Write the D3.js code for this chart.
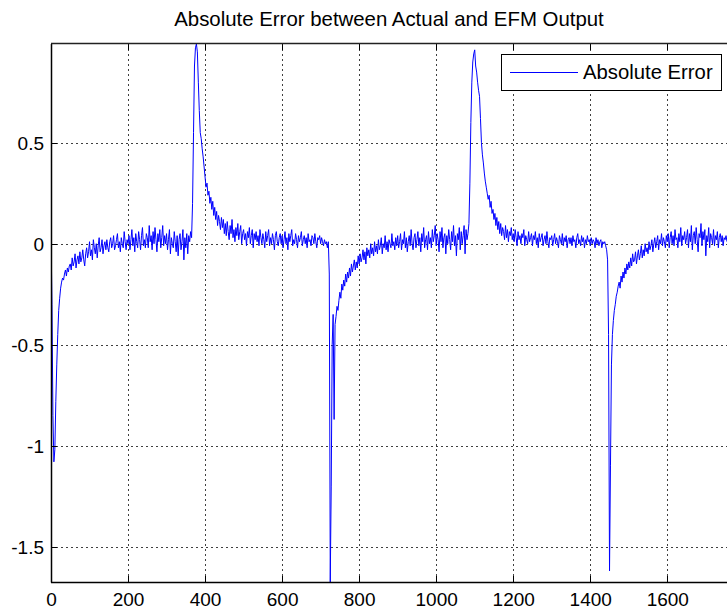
<!DOCTYPE html>
<html>
<head>
<meta charset="utf-8">
<script src="https://cdn.jsdelivr.net/npm/d3@7"></script>
<style>
  html, body { margin: 0; padding: 0; background: #fff; }
  svg { display: block; font-family: "Liberation Sans", Arial, Helvetica, sans-serif; }
</style>
</head>
<body>
<svg id="chart" width="727" height="612"></svg>
<script>
// ---- data ----
const chartTitle = "Absolute Error between Actual and EFM Output";
const seriesName = "Absolute Error";
const sampleStep = 2.5; // sample spacing along x
const xDomain = [0, 1755];
const yDomain = [-1.675, 0.989];
const xTickValues = [0, 200, 400, 600, 800, 1000, 1200, 1400, 1600];
const yTickValues = [0.5, 0, -0.5, -1, -1.5];
const yTickLabels = ["0.5", "0", "-0.5", "-1", "-1.5"];

// error values, one row = 20 samples = 50 x-units
const errPart1 = [ // x 0 .. 347.5
  0.05, -0.30, -0.85, -1.08, -1.02, -0.78, -0.60, -0.45, -0.33, -0.27, -0.22, -0.19, -0.17, -0.18, -0.15, -0.13, -0.16, -0.12, -0.14, -0.11,
  -0.10, -0.13, -0.07, -0.11, -0.09, -0.05, -0.12, -0.08, -0.06, -0.10, -0.04, -0.09, -0.07, -0.03, -0.08, -0.11, -0.05, -0.02, -0.07, -0.04,
  0.01, -0.06, -0.03, -0.08, 0.02, -0.02, -0.05, 0.00, -0.07, -0.01, 0.03, -0.04, -0.02, 0.02, -0.05, -0.01, 0.01, -0.03, 0.02, -0.02,
  -0.04, 0.01, 0.03, -0.02, 0.00, 0.04, -0.03, -0.01, 0.02, 0.05, -0.02, 0.01, -0.04, 0.03, 0.00, -0.02, 0.06, 0.01, -0.03, 0.02,
  0.00, 0.04, -0.03, 0.02, 0.07, -0.01, 0.03, -0.04, 0.05, 0.01, -0.02, 0.06, 0.02, -0.03, 0.04, 0.08, -0.01, 0.02, -0.02, 0.05,
  0.03, -0.02, 0.09, 0.01, 0.04, -0.03, 0.06, 0.00, 0.08, 0.02, -0.04, 0.05, 0.01, 0.07, -0.02, 0.03, 0.09, -0.01, 0.04, 0.00,
  0.05, -0.03, 0.02, 0.07, -0.05, 0.03, 0.00, -0.02, 0.06, 0.01, -0.04, 0.04, -0.06, 0.02, 0.05, -0.03, 0.01, 0.07, -0.08, 0.03
];
const errPart2 = [ // x 350 .. 697.5 (first positive peak)
  -0.02, 0.05, -0.05, 0.04, 0.01, 0.06, 0.03, 0.20, 0.55, 0.88, 0.97, 0.989, 0.95, 0.80, 0.66, 0.55, 0.52, 0.47, 0.43, 0.38,
  0.33, 0.28, 0.30, 0.24, 0.26, 0.20, 0.23, 0.17, 0.21, 0.14, 0.18, 0.12, 0.16, 0.09, 0.14, 0.11, 0.07, 0.13, 0.08, 0.12,
  0.05, 0.10, 0.04, 0.11, 0.06, 0.02, 0.09, 0.05, 0.12, 0.03, 0.07, 0.01, 0.08, 0.04, 0.10, 0.02, 0.06, 0.09, 0.00, 0.05,
  0.07, 0.02, 0.05, -0.01, 0.06, 0.03, 0.08, 0.00, 0.04, 0.07, -0.02, 0.05, 0.02, 0.06, 0.01, 0.04, -0.01, 0.07, 0.03, 0.00,
  0.05, 0.02, -0.02, 0.06, 0.01, 0.04, 0.07, -0.01, 0.03, 0.00, 0.05, 0.02, -0.03, 0.04, 0.06, 0.01, -0.01, 0.03, 0.05, 0.00,
  0.04, -0.02, 0.02, 0.06, 0.00, 0.03, -0.03, 0.05, 0.01, 0.04, 0.07, -0.01, 0.02, 0.00, 0.05, 0.02, -0.02, 0.04, 0.01, 0.03,
  0.06, -0.01, 0.02, 0.04, 0.00, 0.03, -0.02, 0.05, 0.01, 0.02, -0.01, 0.04, 0.03, 0.00, 0.05, 0.01, -0.02, 0.03, 0.02, 0.04
];
const errPart3 = [ // x 700 .. 1047.5 (first negative drop)
  0.00, 0.03, 0.01, -0.01, 0.02, 0.00, 0.01, -0.02, 0.01, -0.15, -1.675, -1.20, -0.50, -0.35, -0.87, -0.40, -0.36, -0.31, -0.33, -0.28,
  -0.24, -0.27, -0.20, -0.23, -0.18, -0.21, -0.15, -0.19, -0.14, -0.17, -0.12, -0.16, -0.10, -0.14, -0.11, -0.08, -0.13, -0.09, -0.12, -0.06,
  -0.10, -0.05, -0.09, -0.07, -0.03, -0.08, -0.04, -0.10, -0.02, -0.06, -0.03, -0.07, 0.00, -0.05, -0.02, -0.06, 0.01, -0.04, -0.01, -0.05,
  0.02, -0.03, -0.01, 0.03, -0.05, 0.00, -0.02, 0.04, -0.03, 0.01, -0.04, 0.02, 0.00, -0.02, 0.05, -0.01, 0.01, -0.03, 0.03, -0.01,
  0.04, -0.02, 0.01, 0.05, -0.03, 0.02, 0.00, 0.06, -0.02, 0.03, -0.04, 0.01, 0.04, -0.01, 0.07, 0.00, -0.03, 0.03, 0.05, -0.02,
  0.02, 0.06, -0.01, 0.03, -0.04, 0.05, 0.01, 0.08, -0.02, 0.02, 0.04, -0.03, 0.06, 0.00, 0.03, -0.02, 0.07, 0.01, 0.04, 0.09,
  -0.01, 0.05, 0.02, -0.04, 0.06, 0.01, 0.08, -0.02, 0.03, 0.05, -0.05, 0.04, 0.00, 0.07, 0.02, -0.03, 0.06, 0.01, 0.09, -0.01
];
const errPart4 = [ // x 1050 .. 1397.5 (second positive peak)
  0.04, -0.06, 0.05, 0.02, 0.08, -0.03, 0.06, 0.00, 0.04, 0.09, -0.05, 0.07, 0.02, 0.05, 0.10, 0.30, 0.60, 0.80, 0.90, 0.94,
  0.96, 0.88, 0.85, 0.80, 0.76, 0.73, 0.62, 0.50, 0.44, 0.40, 0.35, 0.31, 0.28, 0.25, 0.22, 0.24, 0.18, 0.21, 0.15, 0.17,
  0.12, 0.15, 0.09, 0.13, 0.07, 0.11, 0.05, 0.10, 0.04, 0.08, 0.06, 0.02, 0.09, 0.03, 0.07, 0.01, 0.06, 0.04, 0.08, 0.02,
  0.05, 0.01, 0.07, 0.03, -0.01, 0.06, 0.02, 0.04, 0.00, 0.05, 0.03, 0.07, -0.01, 0.04, 0.02, 0.00, 0.06, 0.01, 0.03, 0.05,
  -0.01, 0.04, 0.02, 0.06, 0.00, 0.03, -0.02, 0.05, 0.01, 0.03, 0.05, -0.01, 0.02, 0.04, 0.00, 0.06, 0.01, -0.02, 0.03, 0.02,
  0.04, -0.01, 0.02, 0.05, 0.00, 0.03, 0.01, -0.02, 0.04, 0.02, 0.00, 0.05, -0.01, 0.03, 0.01, 0.04, -0.02, 0.02, 0.03, 0.00,
  0.03, -0.01, 0.04, 0.01, 0.02, -0.02, 0.03, 0.05, 0.00, 0.02, -0.01, 0.04, 0.01, 0.03, -0.02, 0.02, 0.00, 0.04, 0.01, 0.02
];
const errPart5 = [ // x 1400 .. 1755 (second negative drop)
  -0.01, 0.03, 0.00, 0.02, 0.01, -0.02, 0.03, 0.00, 0.02, -0.01, 0.01, 0.02, -0.02, 0.01, 0.00, 0.01, -0.01, -0.03, -0.08, -0.45,
  -1.62, -1.10, -0.60, -0.45, -0.38, -0.33, -0.30, -0.26, -0.24, -0.21, -0.19, -0.22, -0.16, -0.19, -0.14, -0.17, -0.12, -0.15, -0.10, -0.13,
  -0.09, -0.12, -0.07, -0.11, -0.05, -0.09, -0.08, -0.04, -0.10, -0.06, -0.03, -0.08, -0.05, -0.01, -0.07, -0.03, -0.06, 0.00, -0.04, -0.02,
  -0.05, 0.01, -0.03, -0.01, 0.02, -0.04, 0.00, 0.03, -0.02, 0.01, 0.04, -0.03, 0.02, 0.00, 0.05, -0.01, 0.03, 0.01, -0.02, 0.04,
  0.01, 0.05, -0.02, 0.03, 0.06, 0.00, 0.04, -0.01, 0.07, 0.02, 0.03, -0.02, 0.05, 0.01, 0.08, -0.01, 0.04, 0.02, 0.06, 0.00,
  0.03, 0.07, -0.02, 0.05, 0.01, 0.09, -0.03, 0.04, 0.06, 0.00, 0.08, 0.02, -0.04, 0.05, 0.03, 0.10, -0.01, 0.06, 0.02, 0.07,
  -0.06, 0.04, 0.01, 0.08, -0.02, 0.05, 0.03, 0.00, 0.07, -0.01, 0.04, 0.02, 0.06, -0.02, 0.03, 0.05, 0.01, 0.04, -0.01, 0.03,
  0.02, 0.04, 0.01
];

const errValues = [].concat(errPart1, errPart2, errPart3, errPart4, errPart5);
const data = errValues.map((v, i) => ({ x: i * sampleStep, y: v }));

// ---- layout ----
const W = 727, H = 612;
const plot = { left: 51, top: 44, right: 727, bottom: 582 };

const svg = d3.select("#chart");
svg.append("rect").attr("width", W).attr("height", H).attr("fill", "#fff");

const x = d3.scaleLinear().domain(xDomain).range([plot.left, plot.right]);
const y = d3.scaleLinear().domain(yDomain).range([plot.bottom, plot.top]);

svg.append("defs").append("clipPath").attr("id", "clip")
  .append("rect")
  .attr("x", plot.left).attr("y", plot.top)
  .attr("width", plot.right - plot.left).attr("height", plot.bottom - plot.top);

// grid
const grid = svg.append("g");
grid.selectAll("line.vg").data(xTickValues.filter(d => d > 0)).enter().append("line")
  .attr("x1", d => Math.round(x(d)) + 0.5).attr("x2", d => Math.round(x(d)) + 0.5)
  .attr("y1", plot.top).attr("y2", plot.bottom)
  .attr("stroke", "#000").attr("stroke-width", 1).attr("stroke-dasharray", "2,3")
  .attr("opacity", 0.75);
grid.selectAll("line.hg").data(yTickValues).enter().append("line")
  .attr("y1", d => Math.round(y(d)) + 0.5).attr("y2", d => Math.round(y(d)) + 0.5)
  .attr("x1", plot.left).attr("x2", plot.right)
  .attr("stroke", "#000").attr("stroke-width", 1).attr("stroke-dasharray", "2,3")
  .attr("opacity", 0.75);

// series line
const line = d3.line().x(d => x(d.x)).y(d => y(d.y));
svg.append("path").datum(data)
  .attr("clip-path", "url(#clip)")
  .attr("fill", "none").attr("stroke", "#0000ff").attr("stroke-width", 1)
  .attr("stroke-linejoin", "round")
  .attr("d", line);

// axes
const xAxis = d3.axisBottom(x).tickValues(xTickValues).tickSize(0).tickPadding(0).tickFormat(d3.format("d"));
const gx = svg.append("g").attr("transform", `translate(0,${plot.bottom})`).call(xAxis);
gx.select(".domain").remove();
gx.selectAll("text").attr("y", 24).attr("dy", 0).attr("fill", "#000")
  .style("font-size", "19px").style("font-family", "'Liberation Sans', Arial, sans-serif");

const yAxis = d3.axisLeft(y).tickValues(yTickValues).tickSize(0).tickPadding(0)
  .tickFormat((d, i) => yTickLabels[i]);
const gy = svg.append("g").attr("transform", `translate(${plot.left},0)`).call(yAxis);
gy.select(".domain").remove();
gy.selectAll("text").attr("x", -7).attr("dy", "0.35em").attr("fill", "#000")
  .style("font-size", "19px").style("font-family", "'Liberation Sans', Arial, sans-serif");

// inner ticks
const tk = svg.append("g").attr("stroke", "#000").attr("stroke-width", 1);
xTickValues.forEach(v => {
  const px = Math.round(x(v)) + 0.5;
  tk.append("line").attr("x1", px).attr("x2", px).attr("y1", plot.bottom).attr("y2", plot.bottom - 6);
  tk.append("line").attr("x1", px).attr("x2", px).attr("y1", plot.top).attr("y2", plot.top + 6);
});
yTickValues.forEach(v => {
  const py = Math.round(y(v)) + 0.5;
  tk.append("line").attr("x1", plot.left).attr("x2", plot.left + 6).attr("y1", py).attr("y2", py);
});

// frame
svg.append("line").attr("x1", plot.left + 0.5).attr("x2", plot.left + 0.5)
  .attr("y1", plot.top).attr("y2", plot.bottom + 0.5).attr("stroke", "#000").attr("stroke-width", 1.5);
svg.append("line").attr("x1", plot.left).attr("x2", plot.right)
  .attr("y1", plot.bottom + 0.5).attr("y2", plot.bottom + 0.5).attr("stroke", "#000").attr("stroke-width", 1.5);
svg.append("line").attr("x1", plot.left).attr("x2", plot.right)
  .attr("y1", plot.top - 0.5).attr("y2", plot.top - 0.5).attr("stroke", "#222").attr("stroke-width", 1.5);

// title
svg.append("text").attr("x", 389).attr("y", 26).attr("text-anchor", "middle")
  .attr("fill", "#000").style("font-size", "20.4px").text(chartTitle);

// legend
const lg = svg.append("g");
lg.append("rect").attr("x", 501.5).attr("y", 54.5).attr("width", 220).attr("height", 36)
  .attr("fill", "#fff").attr("stroke", "#000").attr("stroke-width", 1);
lg.append("line").attr("x1", 510).attr("x2", 578).attr("y1", 72.5).attr("y2", 72.5)
  .attr("stroke", "#0000ff").attr("stroke-width", 1);
lg.append("text").attr("x", 583).attr("y", 79).attr("fill", "#000")
  .style("font-size", "20.3px").text(seriesName);
</script>
</body>
</html>
